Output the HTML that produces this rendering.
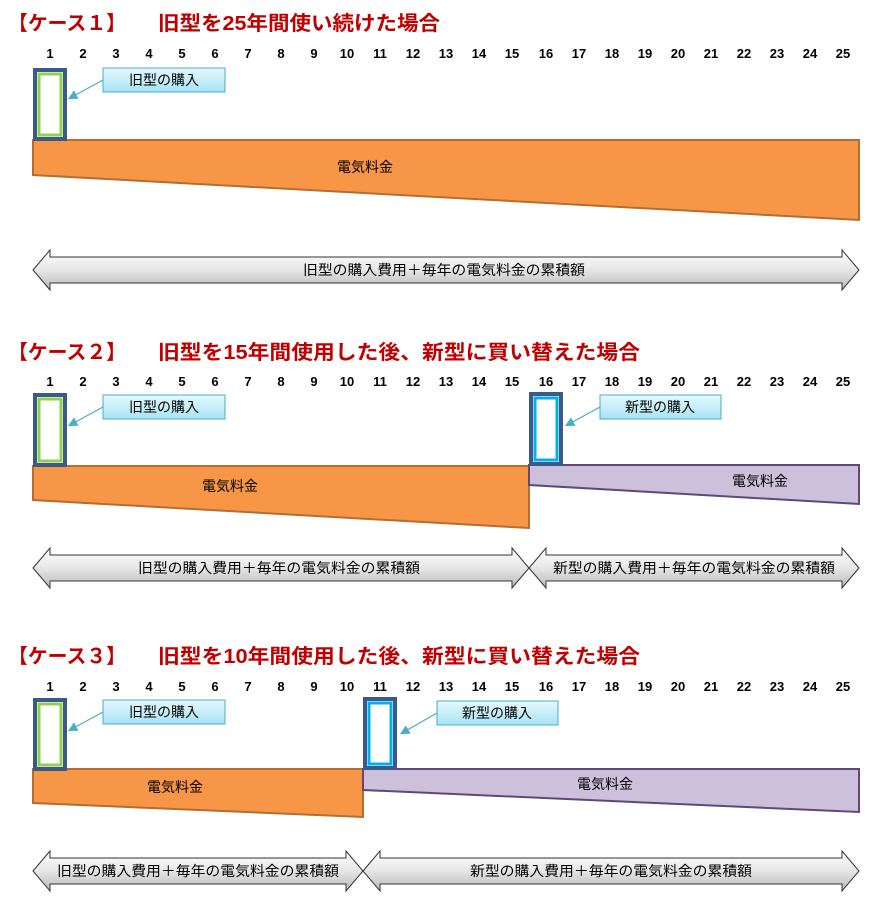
<!DOCTYPE html>
<html><head><meta charset="utf-8"><style>
html,body{margin:0;padding:0;background:#fff}
svg{display:block}
.t{font-family:"Liberation Sans","Noto Sans CJK JP",sans-serif;font-weight:bold;font-size:20px;fill:#c00000}
.n{font-family:"Liberation Sans",sans-serif;font-weight:bold;font-size:13px;fill:#000;text-anchor:middle}
.l{font-family:"Liberation Sans","Noto Sans CJK JP",sans-serif;font-size:14px;fill:#000;text-anchor:middle}
.a{font-family:"Liberation Sans","Noto Sans CJK JP",sans-serif;font-size:14px;fill:#000}
</style></head><body>
<svg width="892" height="914" viewBox="0 0 892 914" xmlns="http://www.w3.org/2000/svg">
<defs>
<linearGradient id="ag" x1="0" y1="0" x2="0" y2="1"><stop offset="0" stop-color="#ffffff"/><stop offset="0.5" stop-color="#e6e6e6"/><stop offset="1" stop-color="#b8b8b8"/></linearGradient>
<linearGradient id="cg" x1="0" y1="0" x2="0" y2="1"><stop offset="0" stop-color="#e6f8fd"/><stop offset="1" stop-color="#a6e4f5"/></linearGradient>
<marker id="ah" markerWidth="8" markerHeight="8" refX="6" refY="4" orient="auto"><path d="M0,0 L8,4 L0,8 z" fill="#4bacc6"/></marker>
</defs>

<!-- Case 1 -->
<text class="t" x="8" y="30" textLength="118" lengthAdjust="spacingAndGlyphs">【ケース１】</text>
<text class="t" x="158" y="30" textLength="282" lengthAdjust="spacingAndGlyphs">旧型を25年間使い続けた場合</text>
<g class="n" transform="translate(0,58)">
<text x="50">1</text><text x="83">2</text><text x="116">3</text><text x="149">4</text><text x="182">5</text><text x="215">6</text><text x="248">7</text><text x="281">8</text><text x="314">9</text><text x="347">10</text><text x="380">11</text><text x="413">12</text><text x="446">13</text><text x="479">14</text><text x="512">15</text><text x="546">16</text><text x="579">17</text><text x="612">18</text><text x="645">19</text><text x="678">20</text><text x="711">21</text><text x="744">22</text><text x="777">23</text><text x="810">24</text><text x="843">25</text>
</g>
<polygon points="33,140 859,140 859,220 33,175" fill="#f79646" stroke="#b66d31" stroke-width="2"/>
<text class="l" x="365" y="172">電気料金</text>
<rect x="35" y="70" width="30" height="69" fill="#fff" stroke="#3b5a8a" stroke-width="4"/>
<rect x="39" y="74" width="22" height="61" fill="none" stroke="#92d050" stroke-width="3"/>
<rect x="103" y="68" width="122" height="24" fill="url(#cg)" stroke="#4bacc6" stroke-width="1"/>
<text class="l" x="164" y="85">旧型の購入</text>
<line x1="103" y1="80" x2="70" y2="98" stroke="#4bacc6" stroke-width="1.2" marker-end="url(#ah)"/>
<polygon points="33,270 50,250 50,257 842,257 842,250 859,270 842,290 842,283 50,283 50,290" fill="url(#ag)" stroke="#333" stroke-width="1"/>
<text class="a" x="303" y="275" textLength="282" lengthAdjust="spacingAndGlyphs">旧型の購入費用＋毎年の電気料金の累積額</text>

<!-- Case 2 -->
<text class="t" x="8" y="359" textLength="118" lengthAdjust="spacingAndGlyphs">【ケース２】</text>
<text class="t" x="158" y="359" textLength="482" lengthAdjust="spacingAndGlyphs">旧型を15年間使用した後、新型に買い替えた場合</text>
<g class="n" transform="translate(0,386)">
<text x="50">1</text><text x="83">2</text><text x="116">3</text><text x="149">4</text><text x="182">5</text><text x="215">6</text><text x="248">7</text><text x="281">8</text><text x="314">9</text><text x="347">10</text><text x="380">11</text><text x="413">12</text><text x="446">13</text><text x="479">14</text><text x="512">15</text><text x="546">16</text><text x="579">17</text><text x="612">18</text><text x="645">19</text><text x="678">20</text><text x="711">21</text><text x="744">22</text><text x="777">23</text><text x="810">24</text><text x="843">25</text>
</g>
<polygon points="33,466 529,466 529,528 33,500" fill="#f79646" stroke="#b66d31" stroke-width="2"/>
<text class="l" x="230" y="491">電気料金</text>
<polygon points="529,465 859,465 859,504 529,485" fill="#ccc0da" stroke="#5f497a" stroke-width="2"/>
<text class="l" x="760" y="486">電気料金</text>
<rect x="35" y="395" width="30" height="70" fill="#fff" stroke="#3b5a8a" stroke-width="4"/>
<rect x="39" y="399" width="22" height="62" fill="none" stroke="#92d050" stroke-width="3"/>
<rect x="103" y="395" width="122" height="24" fill="url(#cg)" stroke="#4bacc6" stroke-width="1"/>
<text class="l" x="164" y="412">旧型の購入</text>
<line x1="103" y1="407" x2="70" y2="425" stroke="#4bacc6" stroke-width="1.2" marker-end="url(#ah)"/>
<rect x="531" y="394" width="30" height="70" fill="#fff" stroke="#3b5a8a" stroke-width="4"/>
<rect x="535" y="398" width="22" height="62" fill="none" stroke="#00b0f0" stroke-width="3"/>
<rect x="600" y="395" width="121" height="24" fill="url(#cg)" stroke="#4bacc6" stroke-width="1"/>
<text class="l" x="660" y="412">新型の購入</text>
<line x1="600" y1="407" x2="567" y2="425" stroke="#4bacc6" stroke-width="1.2" marker-end="url(#ah)"/>
<polygon points="33,568 50,548 50,555 512,555 512,548 529,568 512,588 512,581 50,581 50,588" fill="url(#ag)" stroke="#333" stroke-width="1"/>
<text class="a" x="138" y="573" textLength="282" lengthAdjust="spacingAndGlyphs">旧型の購入費用＋毎年の電気料金の累積額</text>
<polygon points="529,568 546,548 546,555 842,555 842,548 859,568 842,588 842,581 546,581 546,588" fill="url(#ag)" stroke="#333" stroke-width="1"/>
<text class="a" x="553" y="573" textLength="282" lengthAdjust="spacingAndGlyphs">新型の購入費用＋毎年の電気料金の累積額</text>

<!-- Case 3 -->
<text class="t" x="8" y="663" textLength="118" lengthAdjust="spacingAndGlyphs">【ケース３】</text>
<text class="t" x="158" y="663" textLength="482" lengthAdjust="spacingAndGlyphs">旧型を10年間使用した後、新型に買い替えた場合</text>
<g class="n" transform="translate(0,691)">
<text x="50">1</text><text x="83">2</text><text x="116">3</text><text x="149">4</text><text x="182">5</text><text x="215">6</text><text x="248">7</text><text x="281">8</text><text x="314">9</text><text x="347">10</text><text x="380">11</text><text x="413">12</text><text x="446">13</text><text x="479">14</text><text x="512">15</text><text x="546">16</text><text x="579">17</text><text x="612">18</text><text x="645">19</text><text x="678">20</text><text x="711">21</text><text x="744">22</text><text x="777">23</text><text x="810">24</text><text x="843">25</text>
</g>
<polygon points="33,769 363,769 363,817 33,803" fill="#f79646" stroke="#b66d31" stroke-width="2"/>
<text class="l" x="175" y="792">電気料金</text>
<polygon points="363,769 859,769 859,812 363,790" fill="#ccc0da" stroke="#5f497a" stroke-width="2"/>
<text class="l" x="605" y="789">電気料金</text>
<rect x="35" y="700" width="30" height="69" fill="#fff" stroke="#3b5a8a" stroke-width="4"/>
<rect x="39" y="704" width="22" height="61" fill="none" stroke="#92d050" stroke-width="3"/>
<rect x="103" y="700" width="122" height="24" fill="url(#cg)" stroke="#4bacc6" stroke-width="1"/>
<text class="l" x="164" y="717">旧型の購入</text>
<line x1="103" y1="712" x2="70" y2="730" stroke="#4bacc6" stroke-width="1.2" marker-end="url(#ah)"/>
<rect x="365" y="699" width="30" height="69" fill="#fff" stroke="#3b5a8a" stroke-width="4"/>
<rect x="369" y="703" width="22" height="61" fill="none" stroke="#00b0f0" stroke-width="3"/>
<rect x="437" y="701" width="121" height="24" fill="url(#cg)" stroke="#4bacc6" stroke-width="1"/>
<text class="l" x="497" y="718">新型の購入</text>
<line x1="437" y1="713" x2="402" y2="733" stroke="#4bacc6" stroke-width="1.2" marker-end="url(#ah)"/>
<polygon points="33,871 50,851 50,858 346,858 346,851 363,871 346,891 346,884 50,884 50,891" fill="url(#ag)" stroke="#333" stroke-width="1"/>
<text class="a" x="57" y="876" textLength="282" lengthAdjust="spacingAndGlyphs">旧型の購入費用＋毎年の電気料金の累積額</text>
<polygon points="363,871 380,851 380,858 842,858 842,851 859,871 842,891 842,884 380,884 380,891" fill="url(#ag)" stroke="#333" stroke-width="1"/>
<text class="a" x="470" y="876" textLength="282" lengthAdjust="spacingAndGlyphs">新型の購入費用＋毎年の電気料金の累積額</text>
</svg>
</body></html>
